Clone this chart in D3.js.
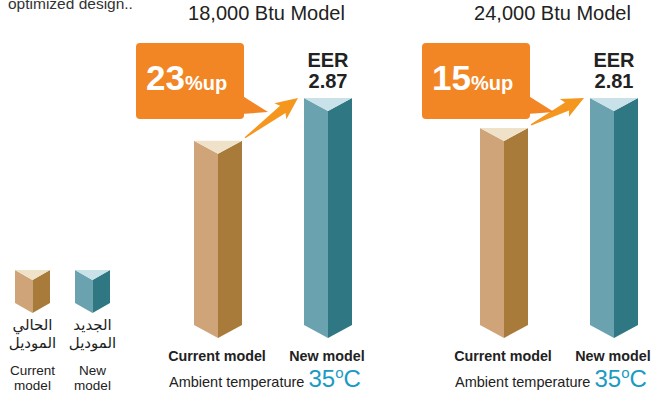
<!DOCTYPE html>
<html>
<head>
<meta charset="utf-8">
<script src="https://cdn.jsdelivr.net/npm/d3@7"></script>
<style>
	body { margin: 0; background: #fff; }
	svg { display: block; font-family: "Liberation Sans", Arial, sans-serif; }
</style>
</head>
<body>
<script>
// Chart data
const models = ["18,000 Btu Model", "24,000 Btu Model"];
const kinds = ["Current model", "New model"];
const newEER = [2.87, 2.81];
const currentEER = [2.33, 2.44];
const pctUp = [23, 15];
const ambientTemp = [35, 35];

const w = 654;
const h = 401;

const colors = {
	"Current model": { left: "#cfa479", right: "#a97b3b", top: "#f0e2c9" },
	"New model": { left: "#6aa2b0", right: "#2e7783", top: "#c9e1e9" },
};
const orange = "#f28524";
const arrowColor = "#f5961e";
const teal = "#1b9bc3";

const svg = d3.select("body").append("svg").attr("width", w).attr("height", h);

// caption cut off at the very top, as in the source
svg.append("text")
	.attr("x", 8)
	.attr("y", 9)
	.attr("font-size", 15.5)
	.attr("fill", "#333")
	.text("optimized design..");

// Draw a prism-like bar (top triangle + two faces, pointed bottom)
function prism(g, x0, x1, yTop, yBottom, d, c) {
	const xc = (x0 + x1) / 2;
	g.append("polygon")
		.attr("points", [[x0, yTop], [xc, yTop + d], [xc, yBottom + d], [x0, yBottom]].join(" "))
		.attr("fill", c.left);
	g.append("polygon")
		.attr("points", [[x1, yTop], [xc, yTop + d], [xc, yBottom + d], [x1, yBottom]].join(" "))
		.attr("fill", c.right);
	g.append("polygon")
		.attr("points", [[x0, yTop], [x1, yTop], [xc, yTop + d]].join(" "))
		.attr("fill", c.top);
}

// panel and bar positions
const xPanel = d3.scalePoint().domain(models).range([163, 449]);
const xBar = d3.scalePoint().domain(kinds).range([55, 165]);
const barW = 48;
const depth = 13;

models.forEach((m, i) => {
	const g = svg.append("g").attr("transform", `translate(${xPanel(m)},0)`);
	const yScale = d3.scaleLinear().domain([0, newEER[i]]).range([325, 98]);
	const vals = { "Current model": currentEER[i], "New model": newEER[i] };

	// title
	g.append("text")
		.attr("x", 103.5)
		.attr("y", 20)
		.attr("text-anchor", "middle")
		.attr("font-size", 20)
		.attr("fill", "#222")
		.text(m);

	kinds.forEach((k) => {
		const cx = xBar(k);
		prism(g, cx - barW / 2, cx + barW / 2, yScale(vals[k]), yScale(0), depth, colors[k]);
		g.append("text")
			.attr("x", cx - 1)
			.attr("y", 361)
			.attr("text-anchor", "middle")
			.attr("font-size", 14.3)
			.attr("font-weight", "bold")
			.attr("fill", "#222")
			.text(k);
	});

	const curC = xBar("Current model");
	const newC = xBar("New model");
	const curTop = yScale(currentEER[i]);
	const newTop = yScale(newEER[i]);

	// EER label
	const eer = g.append("text")
		.attr("x", newC)
		.attr("text-anchor", "middle")
		.attr("font-size", 20)
		.attr("font-weight", "bold")
		.attr("fill", "#222");
	eer.append("tspan").attr("x", newC).attr("y", newTop - 31).text("EER");
	eer.append("tspan").attr("x", newC).attr("y", newTop - 10).text(newEER[i].toFixed(2));

	// arrow from current to new
	const sx = curC + barW / 2 + 3, sy = curTop - 3;
	const ex = newC - barW / 2 - 6, ey = newTop;
	const len = Math.hypot(ex - sx, ey - sy);
	const ang = (Math.atan2(ey - sy, ex - sx) * 180) / Math.PI;
	const hl = 19, hw = 10, sw = 4.5;
	g.append("polygon")
		.attr("points", [[0, -0.6], [len - hl, -sw], [len - hl - 3, -hw], [len, 0], [len - hl - 3, hw], [len - hl, sw], [0, 0.6]].join(" "))
		.attr("transform", `translate(${sx},${sy}) rotate(${ang})`)
		.attr("fill", arrowColor);

	// callout box
	const bx0 = curC - 82, bx1 = curC + 26, by0 = newTop - 55, by1 = newTop + 21;
	g.append("polygon")
		.attr("points", [[bx1 - 3, by1 - 24], [bx1 + 24, by1 - 7], [bx1 - 3, by1 - 5]].join(" "))
		.attr("fill", orange);
	g.append("rect")
		.attr("x", bx0)
		.attr("y", by0)
		.attr("width", bx1 - bx0)
		.attr("height", by1 - by0)
		.attr("rx", 4)
		.attr("fill", orange);
	const pt = g.append("text")
		.attr("x", bx0 + 10)
		.attr("y", by0 + 47)
		.attr("font-weight", "bold")
		.attr("fill", "#fff");
	pt.append("tspan").attr("font-size", 35).text(pctUp[i]);
	pt.append("tspan").attr("font-size", 20).text("%up");

	// ambient temperature
	const at = g.append("text")
		.attr("x", 6)
		.attr("y", 387)
		.attr("font-size", 14.5)
		.attr("fill", "#222");
	at.append("tspan").text("Ambient temperature ");
	at.append("tspan").attr("font-size", 24).attr("fill", teal).text(ambientTemp[i]);
	at.append("tspan").attr("font-size", 15).attr("dy", -9).attr("fill", teal).text("o");
	at.append("tspan").attr("font-size", 24).attr("dy", 9).attr("fill", teal).text("C");
});

// legend
const legendAr = { "Current model": ["الحالي", "الموديل"], "New model": ["الجديد", "الموديل"] };
const legendEn = { "Current model": ["Current", "model"], "New model": ["New", "model"] };
const xLegend = d3.scalePoint().domain(kinds).range([32.5, 92.5]);
const legend = svg.append("g").attr("id", "legend");
kinds.forEach((k) => {
	const cx = xLegend(k);
	prism(legend, cx - 17.5, cx + 17.5, 270, 303, 10, colors[k]);
	legendAr[k].forEach((t, j) => {
		legend.append("text")
			.attr("x", cx)
			.attr("y", 330 + j * 18)
			.attr("text-anchor", "middle")
			.attr("font-family", "'DejaVu Sans', sans-serif")
			.attr("font-size", 15)
			.attr("fill", "#222")
			.text(t);
	});
	legendEn[k].forEach((t, j) => {
		legend.append("text")
			.attr("x", cx)
			.attr("y", 375 + j * 15)
			.attr("text-anchor", "middle")
			.attr("font-size", 13.5)
			.attr("fill", "#222")
			.text(t);
	});
});
</script>
</body>
</html>
